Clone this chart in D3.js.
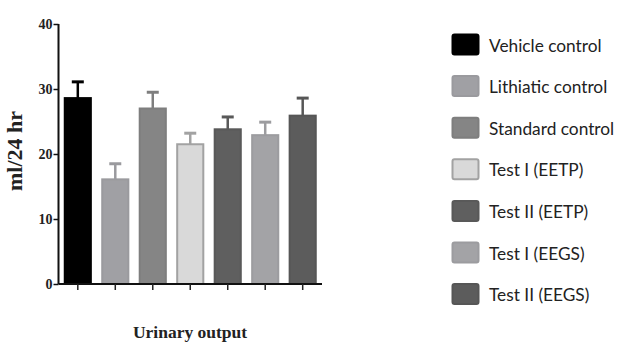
<!DOCTYPE html>
<html><head><meta charset="utf-8">
<script src="https://cdn.jsdelivr.net/npm/d3@7"></script>
<style>body{margin:0;background:#fff}svg{display:block}</style>
</head><body>
<svg id="c" width="618" height="345"></svg>
<script>
const categories = ["Vehicle control","Lithiatic control","Standard control","Test I (EETP)","Test II (EETP)","Test I (EEGS)","Test II (EEGS)"];
const values = [28.6, 16.1, 27.0, 21.5, 23.8, 22.9, 25.9];
const errors = [2.5, 2.4, 2.5, 1.7, 1.9, 2.0, 2.7];
const yTicks = [0, 10, 20, 30, 40];
const fills = ["#000000","#a0a0a4","#858585","#d9d9d9","#5f5f5f","#a3a3a6","#5c5c5c"];
const strokes = ["#000000","#9a9a9e","#7e7e7e","#a2a2a2","#595959","#9c9c9f","#565656"];

const svg = d3.select("#c");
const y = d3.scaleLinear().domain([0, 40]).range([284, 24]);
const x = d3.scaleBand().domain(categories).range([58.5, 322]).paddingInner(0.25).paddingOuter(0.14);

// bars
svg.selectAll("rect.bar").data(categories).join("rect")
  .attr("x", d => x(d) + 1).attr("width", x.bandwidth() - 2)
  .attr("y", (d,i) => y(values[i])).attr("height", (d,i) => y(0) - y(values[i]))
  .attr("fill", (d,i) => fills[i]).attr("stroke", (d,i) => strokes[i]).attr("stroke-width", 2);

// error bars
const eg = svg.selectAll("g.err").data(categories).join("g");
eg.append("line")
  .attr("x1", d => x(d) + x.bandwidth()/2).attr("x2", d => x(d) + x.bandwidth()/2)
  .attr("y1", (d,i) => y(values[i])).attr("y2", (d,i) => y(values[i] + errors[i]))
  .attr("stroke", (d,i) => strokes[i]).attr("stroke-width", 2.5);
eg.append("line")
  .attr("x1", d => x(d) + x.bandwidth()/2 - 6).attr("x2", d => x(d) + x.bandwidth()/2 + 6)
  .attr("y1", (d,i) => y(values[i] + errors[i])).attr("y2", (d,i) => y(values[i] + errors[i]))
  .attr("stroke", (d,i) => strokes[i]).attr("stroke-width", 3);

// y axis
const ya = svg.append("g").attr("transform", "translate(58.5,0)")
  .call(d3.axisLeft(y).tickValues(yTicks).tickSize(5).tickPadding(1));
ya.select(".domain").attr("stroke", "#111").attr("stroke-width", 2).attr("d", "M0," + y(0) + "V" + y(40));
ya.selectAll(".tick line").attr("stroke", "#111").attr("stroke-width", 1.5);
ya.selectAll(".tick text").attr("font-family", "Liberation Serif").attr("font-weight", "bold")
  .attr("font-size", 14).attr("fill", "#222");

// x axis
const xa = svg.append("g").attr("transform", "translate(0," + y(0) + ")")
  .call(d3.axisBottom(x).tickSize(6).tickFormat(""));
xa.select(".domain").attr("stroke", "#111").attr("stroke-width", 2).attr("d", "M58.5,0H322");
xa.selectAll(".tick line").attr("stroke", "#222").attr("stroke-width", 1.5);

// axis titles
svg.append("text").attr("transform", "translate(22,151) rotate(-90)")
  .attr("text-anchor", "middle").attr("font-family", "Liberation Serif").attr("font-weight", "bold")
  .attr("font-size", 22).attr("fill", "#222").text("ml/24 hr");
svg.append("text").attr("x", 190).attr("y", 338)
  .attr("text-anchor", "middle").attr("font-family", "Liberation Serif").attr("font-weight", "bold")
  .attr("font-size", 17.5).attr("fill", "#222").text("Urinary output");

// legend
const lg = svg.selectAll("g.leg").data(categories).join("g")
  .attr("transform", (d,i) => "translate(452," + (44.5 + i*41.6) + ")");
lg.append("rect").attr("x", 0.5).attr("y", -10).attr("width", 26).attr("height", 20).attr("rx", 2)
  .attr("fill", (d,i) => fills[i]).attr("stroke", (d,i) => strokes[i]).attr("stroke-width", 2);
lg.append("text").attr("x", 37).attr("y", 7).attr("font-family", "Lato").attr("font-size", 17.3)
  .attr("fill", "#222").text(d => d);
</script>
</body></html>
